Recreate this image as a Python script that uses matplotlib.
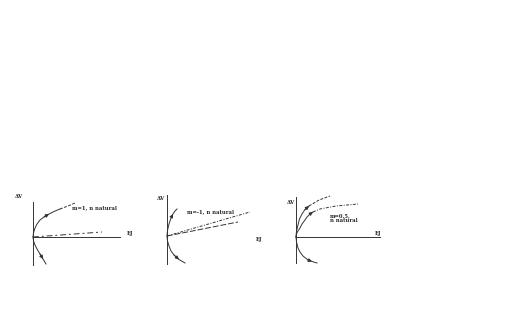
import numpy as np
import matplotlib.pyplot as plt

# curve points (EJ, dV), origin of each sketch at (0, 0)
p1_up_x = [0, 0.05, 0.2, 0.4, 0.7, 1.1, 1.6, 2.1, 2.7]
p1_up_y = [0, 0.4, 0.9, 1.3, 1.7, 2.0, 2.3, 2.55, 2.8]
p1_up_dash_x = [2.7, 3.5, 4.2]
p1_up_dash_y = [2.8, 3.1, 3.4]
p1_low_x = [0, 0.05, 0.2, 0.4, 0.7, 1.0, 1.3]
p1_low_y = [0, -0.4, -0.8, -1.2, -1.7, -2.2, -2.7]
p1_line_x = [0, 6.9]
p1_line_y = [0, 0.5]

p2_up_x = [0, 0.03, 0.1, 0.2, 0.3, 0.45, 0.6, 0.8, 1.0]
p2_up_y = [0, 0.4, 0.8, 1.2, 1.5, 1.9, 2.2, 2.5, 2.7]
p2_low_x = [0, 0.05, 0.2, 0.4, 0.7, 1.2, 1.8]
p2_low_y = [0, -0.5, -1.0, -1.5, -1.9, -2.35, -2.7]
p2_lineA_x = [0, 8.3]
p2_lineA_y = [0, 2.4]
p2_lineB_x = [0, 7.1]
p2_lineB_y = [0, 1.4]

p3_out_x = [0, 0.05, 0.2, 0.35, 0.6, 0.9, 1.3]
p3_out_y = [0, 0.6, 1.2, 1.8, 2.3, 2.75, 3.1]
p3_out_dash_x = [1.3, 2.3, 3.4]
p3_out_dash_y = [3.1, 3.7, 4.1]
p3_in_x = [0, 0.1, 0.4, 0.6, 0.9, 1.1, 1.4, 1.7]
p3_in_y = [0, 0.45, 0.9, 1.3, 1.7, 2.0, 2.3, 2.5]
p3_in_dash_x = [1.7, 2.4, 4.0, 6.2]
p3_in_dash_y = [2.5, 2.8, 3.1, 3.3]
p3_low_x = [0, 0.05, 0.2, 0.4, 0.7, 1.2, 1.6, 2.1]
p3_low_y = [0, -0.5, -1.1, -1.5, -1.9, -2.3, -2.45, -2.6]

labels = ["m=1, n natural", "m=-1, n natural", "m=0.5,\nn natural"]
xlab = "EJ"
ylab = "ΔV"

W, H = 519, 312
fig = plt.figure(figsize=(W / 100, H / 100), dpi=100)
fig.patch.set_facecolor("white")

txt = dict(fontsize=3.8, fontweight="bold", family="DejaVu Serif", color="#222222")
lw = 0.7
col = "#333333"


def panel(ox, oy, left, right, top, bottom):
    # axes box in pixels, origin of the sketch at (ox, oy), 10 px per unit
    ax = fig.add_axes([left / W, (H - bottom) / H, (right - left) / W, (bottom - top) / H])
    ax.set_xlim((left - ox) / 10, (right - ox) / 10)
    ax.set_ylim((oy - bottom) / 10, (oy - top) / 10)
    ax.axis("off")
    return ax


def arrow(ax, xs, ys, i):
    ax.annotate("", xy=(xs[i + 1], ys[i + 1]), xytext=(xs[i], ys[i]),
                arrowprops=dict(arrowstyle="-|>", color=col, lw=lw,
                                mutation_scale=5, shrinkA=0, shrinkB=0))


# panel 1
ax = panel(33, 237, 5, 140, 185, 275)
ax.plot([0, 0], [-2.8, 3.5], color=col, lw=lw)
ax.plot([0, 8.7], [0, 0], color=col, lw=lw)
ax.plot(p1_up_x, p1_up_y, color=col, lw=lw)
ax.plot(p1_up_dash_x, p1_up_dash_y, color=col, lw=lw, ls=(0, (3, 1.5)))
ax.plot(p1_low_x, p1_low_y, color=col, lw=lw)
ax.plot(p1_line_x, p1_line_y, color=col, lw=lw, ls=(0, (6, 3, 2, 3)))
arrow(ax, p1_up_x, p1_up_y, 5)
arrow(ax, p1_low_x, p1_low_y, 4)
ax.text(3.9, 2.9, labels[0], ha="left", va="center", **txt)
ax.text(9.4, 0.3, xlab, ha="left", va="center", **txt)
ax.text(-1.8, 4.0, ylab, ha="left", va="center", **txt)

# panel 2
ax = panel(167, 236, 145, 270, 185, 275)
ax.plot([0, 0], [-2.8, 4.1], color=col, lw=lw)
ax.plot(p2_up_x, p2_up_y, color=col, lw=lw)
ax.plot(p2_low_x, p2_low_y, color=col, lw=lw)
ax.plot(p2_lineA_x, p2_lineA_y, color=col, lw=lw, ls=(0, (3, 1.5, 1, 1.5)))
ax.plot(p2_lineB_x, p2_lineB_y, color=col, lw=lw, ls=(0, (6, 2)))
arrow(ax, p2_up_x, p2_up_y, 5)
arrow(ax, p2_low_x, p2_low_y, 4)
ax.text(2.0, 2.4, labels[1], ha="left", va="center", **txt)
ax.text(8.9, -0.4, xlab, ha="left", va="center", **txt)
ax.text(-1.0, 3.7, ylab, ha="left", va="center", **txt)

# panel 3
ax = panel(296, 237, 275, 400, 185, 275)
ax.plot([0, 0], [-2.6, 4.0], color=col, lw=lw)
ax.plot([0, 8.4], [0, 0], color=col, lw=lw)
ax.plot(p3_out_x, p3_out_y, color=col, lw=lw)
ax.plot(p3_out_dash_x, p3_out_dash_y, color=col, lw=lw, ls=(0, (3, 1.5)))
ax.plot(p3_in_x, p3_in_y, color=col, lw=lw)
ax.plot(p3_in_dash_x, p3_in_dash_y, color=col, lw=lw, ls=(0, (3, 1.5, 1, 1.5)))
ax.plot(p3_low_x, p3_low_y, color=col, lw=lw)
arrow(ax, p3_out_x, p3_out_y, 5)
arrow(ax, p3_in_x, p3_in_y, 6)
arrow(ax, p3_low_x, p3_low_y, 5)
ax.text(3.4, 2.4, labels[2], ha="left", va="top", linespacing=1.0, **txt)
ax.text(7.9, 0.4, xlab, ha="left", va="center", **txt)
ax.text(-0.9, 3.5, ylab, ha="left", va="center", **txt)

fig.savefig("out.png", dpi=100)
